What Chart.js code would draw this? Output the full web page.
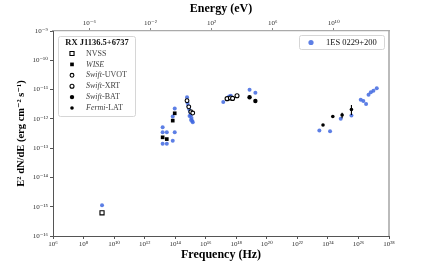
<!DOCTYPE html>
<html>
<head>
<meta charset="utf-8">
<script src="https://cdn.jsdelivr.net/npm/chart.js@4.4.1/dist/chart.umd.min.js"></script>
<style>
body{margin:0;background:#fff}
#box{width:432px;height:266px}
</style>
</head>
<body>
<div id="box"><canvas id="sed" width="432" height="266"></canvas></div>
<script>
// 1ES 0229+200 (blue points, drawn underneath)
var blueNu = [1.62e9,
  1.51e13, 1.51e13, 2.82e13, 9.33e13, 1.51e13, 2.82e13, 6.92e13, 6.92e13, 9.33e13,
  5.96e14, 6.46e14, 7.24e14, 8.13e14, 9.33e14, 1.05e15, 1.17e15, 1.32e15, 1.41e15, 8.71e14, 1.10e15,
  1.41e17, 3.39e17, 4.37e17,
  7.41e18, 1.78e19,
  2.75e23, 1.38e24, 6.92e24, 3.47e25, 1.41e26, 2.09e26, 3.16e26, 4.57e26, 6.46e26, 9.55e26, 1.58e27];
var blueF = [1.12e-15,
  5.13e-13, 3.47e-13, 3.47e-13, 3.47e-13, 1.41e-13, 1.41e-13, 1.78e-13, 1.20e-12, 2.24e-12,
  5.5e-12, 3.47e-12, 2.75e-12, 2.19e-12, 1.74e-12, 1.35e-12, 1.07e-12, 8.5e-13, 7.6e-13, 1.26e-12, 9.1e-13,
  3.8e-12, 5.75e-12, 6.17e-12,
  9.77e-12, 7.76e-12,
  3.98e-13, 3.8e-13, 1.0e-12, 1.29e-12, 4.47e-12, 4.07e-12, 3.24e-12, 6.6e-12, 8.1e-12, 9.1e-12, 1.10e-11];

// RX J1136.5+6737 (black points)
var nvssNu = [1.62e9];
var nvssF = [6.2e-16];
var wiseNu = [1.51e13, 2.82e13, 6.92e13, 9.33e13];
var wiseF = [2.34e-13, 2.04e-13, 8.7e-13, 1.55e-12];
var uvotNu = [5.96e14, 7.76e14, 1.05e15, 1.41e15];
var uvotF = [4.17e-12, 2.57e-12, 1.74e-12, 1.58e-12];
var xrtNu = [2.51e17, 4.17e17, 5.75e17, 1.12e18];
var xrtF = [4.9e-12, 5.13e-12, 5.0e-12, 6.17e-12];
var batNu = [7.41e18, 1.78e19];
var batF = [5.5e-12, 4.07e-12];
var batLo = [4.8e-12, 3.5e-12];
var batHi = [6.3e-12, 4.7e-12];
var latNu = [4.79e23, 2.09e24, 8.51e24, 3.47e25];
var latF = [6.17e-13, 1.20e-12, 1.35e-12, 2.09e-12];
var latLo = [5.8e-13, 1.12e-12, 1.05e-12, 1.35e-12];
var latHi = [6.5e-13, 1.28e-12, 1.62e-12, 2.95e-12];

// tick exponents
var nuExp = [6, 8, 10, 12, 14, 16, 18, 20, 22, 24, 26, 28];
var eExp = [-6, -2, 2, 6, 10];
var fExp = [-16, -15, -14, -13, -12, -11, -10, -9];

var hEv = 4.135667e-15; // eV s
var serif = "'Liberation Serif', 'DejaVu Serif', serif";
var blue = 'rgba(65,105,225,0.85)';

var sup = {'0':'⁰','1':'¹','2':'²','3':'³','4':'⁴','5':'⁵','6':'⁶','7':'⁷','8':'⁸','9':'⁹','-':'⁻'};
function lab(e) {
    return '10' + String(e).split('').map(function (c) { return sup[c]; }).join('');
}
function pts(xs, ys) {
    return xs.map(function (x, i) { return {x: x, y: ys[i]}; });
}

function marker(ctx, style, r, fill, stroke, bw, x, y) {
    ctx.save();
    ctx.fillStyle = fill;
    ctx.strokeStyle = stroke;
    ctx.lineWidth = bw;
    ctx.beginPath();
    if (style == 'rect') {
        var s = r * Math.SQRT1_2;
        ctx.rect(x - s, y - s, 2 * s, 2 * s);
    } else {
        ctx.arc(x, y, r, 0, Math.PI * 2);
    }
    ctx.fill();
    if (bw > 0) ctx.stroke();
    ctx.restore();
}

// vertical error bars
var errBars = {
    id: 'errBars',
    afterDatasetsDraw: function (chart) {
        var ctx = chart.ctx, xs = chart.scales.x, ys = chart.scales.y;
        chart.data.datasets.forEach(function (ds) {
            if (!ds.errLo) return;
            ctx.save();
            ctx.strokeStyle = '#000';
            ctx.lineWidth = 1.1;
            ds.data.forEach(function (p, i) {
                var px = xs.getPixelForValue(p.x);
                ctx.beginPath();
                ctx.moveTo(px, ys.getPixelForValue(ds.errLo[i]));
                ctx.lineTo(px, ys.getPixelForValue(ds.errHi[i]));
                ctx.stroke();
            });
            ctx.restore();
        });
    }
};

// right frame line
var frame = {
    id: 'frame',
    afterDraw: function (chart) {
        var a = chart.chartArea, ctx = chart.ctx;
        ctx.save();
        ctx.strokeStyle = '#aaa';
        ctx.lineWidth = 1.6;
        ctx.beginPath();
        ctx.moveTo(a.right, a.top);
        ctx.lineTo(a.right, a.bottom);
        ctx.stroke();
        ctx.restore();
    }
};

function legendBox(ctx, x, y, w, h) {
    ctx.save();
    ctx.beginPath();
    ctx.roundRect(x, y, w, h, 2);
    ctx.fillStyle = 'rgba(255,255,255,0.9)';
    ctx.fill();
    ctx.strokeStyle = '#d6d6d6';
    ctx.lineWidth = 1;
    ctx.stroke();
    ctx.restore();
}

var legends = {
    id: 'legends',
    afterDraw: function (chart) {
        var ctx = chart.ctx;
        var sets = chart.data.datasets;
        // left legend
        legendBox(ctx, 58.5, 36.5, 77, 80);
        ctx.save();
        ctx.fillStyle = '#111';
        ctx.textBaseline = 'middle';
        ctx.textAlign = 'center';
        ctx.font = 'bold 8.5px ' + serif;
        ctx.fillText('RX J1136.5+6737', 97, 43);
        ctx.textAlign = 'left';
        var rowY = 53.5;
        sets.forEach(function (ds) {
            if (!ds.parts) return;
            marker(ctx, ds.pointStyle, ds.pointRadius, ds.backgroundColor, ds.borderColor, ds.borderWidth, 72, rowY);
            var tx = 86;
            ds.parts.forEach(function (p) {
                ctx.font = (p[1] ? 'italic ' : '') + '8px ' + serif;
                ctx.fillStyle = '#444';
                ctx.fillText(p[0], tx, rowY);
                tx += ctx.measureText(p[0]).width;
            });
            rowY += 10.9;
        });
        // right legend
        legendBox(ctx, 299.5, 35.5, 85, 14);
        var b = sets[sets.length - 1];
        marker(ctx, 'circle', 2.6, b.backgroundColor, b.backgroundColor, 0, 311, 42.5);
        ctx.font = '8.5px ' + serif;
        ctx.fillStyle = '#111';
        ctx.fillText(b.label, 326, 42.5);
        ctx.restore();
    }
};

var tickFont = {family: serif, size: 7};
var titleFont = {family: serif, size: 12, weight: 'bold'};

var sed = new Chart(document.getElementById('sed'), {
    type: 'scatter',
    data: {
        datasets: [
            {label: 'NVSS', parts: [['NVSS', 0]], data: pts(nvssNu, nvssF), pointStyle: 'rect', pointRadius: 2.9,
                backgroundColor: '#fff', borderColor: '#000', borderWidth: 1.1, order: 1},
            {label: 'WISE', parts: [['WISE', 1]], data: pts(wiseNu, wiseF), pointStyle: 'rect', pointRadius: 2.6,
                backgroundColor: '#000', borderColor: '#000', borderWidth: 0, order: 1},
            {label: 'Swift-UVOT', parts: [['Swift', 1], ['-UVOT', 0]], data: pts(uvotNu, uvotF), pointStyle: 'circle', pointRadius: 1.9,
                backgroundColor: '#fff', borderColor: '#000', borderWidth: 1.1, order: 1},
            {label: 'Swift-XRT', parts: [['Swift', 1], ['-XRT', 0]], data: pts(xrtNu, xrtF), pointStyle: 'circle', pointRadius: 2.0,
                backgroundColor: '#fff', borderColor: '#000', borderWidth: 1.1, order: 1},
            {label: 'Swift-BAT', parts: [['Swift', 1], ['-BAT', 0]], data: pts(batNu, batF), errLo: batLo, errHi: batHi,
                pointStyle: 'circle', pointRadius: 2.2, backgroundColor: '#000', borderColor: '#000', borderWidth: 0, order: 1},
            {label: 'Fermi-LAT', parts: [['Fermi', 1], ['-LAT', 0]], data: pts(latNu, latF), errLo: latLo, errHi: latHi,
                pointStyle: 'circle', pointRadius: 1.8, backgroundColor: '#000', borderColor: '#000', borderWidth: 0, order: 1},
            {label: '1ES 0229+200', data: pts(blueNu, blueF), pointStyle: 'circle', pointRadius: 2.0,
                backgroundColor: blue, borderColor: blue, borderWidth: 0, order: 10}
        ]
    },
    options: {
        responsive: false,
        animation: false,
        layout: {padding: {left: 0, right: 43, top: 0, bottom: 0}},
        plugins: {legend: {display: false}, tooltip: {enabled: false}},
        scales: {
            x: {
                type: 'logarithmic', position: 'bottom', min: 1e6, max: 1e28,
                afterBuildTicks: function (s) { s.ticks = nuExp.map(function (e) { return {value: Math.pow(10, e)}; }); },
                afterFit: function (s) { s.height = 30; },
                ticks: {callback: function (v) { return lab(Math.round(Math.log10(v))); }, font: tickFont, color: '#333',
                    padding: 1, maxRotation: 0, autoSkip: false},
                grid: {drawOnChartArea: false, tickLength: 3, color: '#555'},
                border: {color: '#555', width: 1},
                title: {display: true, text: 'Frequency (Hz)', font: titleFont, color: '#000', padding: {top: 0, bottom: 4}}
            },
            x2: {
                type: 'logarithmic', axis: 'x', position: 'top', display: true, min: 1e6 * hEv, max: 1e28 * hEv,
                afterBuildTicks: function (s) { s.ticks = eExp.map(function (e) { return {value: Math.pow(10, e)}; }); },
                afterFit: function (s) { s.height = 31; },
                ticks: {callback: function (v) { return lab(Math.round(Math.log10(v))); }, font: tickFont, color: '#333',
                    padding: 1, maxRotation: 0, autoSkip: false},
                grid: {drawOnChartArea: false, tickLength: 3, color: '#888'},
                border: {color: '#aaa', width: 1.2},
                title: {display: true, text: 'Energy (eV)', font: titleFont, color: '#000', padding: {top: 2, bottom: 0}}
            },
            y: {
                type: 'logarithmic', min: 1e-16, max: 1e-9,
                afterBuildTicks: function (s) { s.ticks = fExp.map(function (e) { return {value: Math.pow(10, e)}; }); },
                afterFit: function (s) { s.width = 53; },
                ticks: {callback: function (v) { return lab(Math.round(Math.log10(v))); }, font: tickFont, color: '#333',
                    padding: 2, autoSkip: false},
                grid: {drawOnChartArea: false, tickLength: 3, color: '#555'},
                border: {color: '#555', width: 1},
                title: {display: true, text: 'E² dN/dE (erg cm⁻² s⁻¹)', font: {family: serif, size: 10.5, weight: 'bold'},
                    color: '#000', padding: {top: 15, bottom: 0}}
            }
        }
    },
    plugins: [frame, errBars, legends]
});
</script>
</body>
</html>
